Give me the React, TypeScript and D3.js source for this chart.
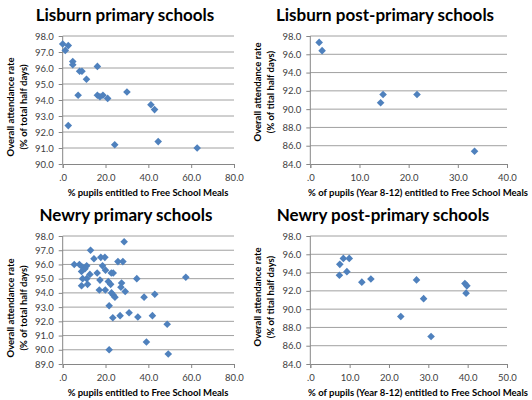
import React, { useEffect, useRef, ReactElement } from 'react'
import * as d3 from 'd3'

// Lisburn primary schools
const lisburnPrimaryFsm = [0, 2.6, 1.2, 4.7, 4.7, 7.9, 9.0, 16.2, 11.1, 7.2, 16.2, 17.4, 18.8, 21.0, 30.0, 41.2, 42.9, 2.6, 24.3, 44.6, 62.8]
const lisburnPrimaryRate = [97.5, 97.4, 97.1, 96.4, 96.2, 95.8, 95.8, 96.1, 95.3, 94.3, 94.3, 94.2, 94.3, 94.1, 94.5, 93.7, 93.4, 92.4, 91.2, 91.4, 91.0]

// Lisburn post-primary schools
const lisburnPostFsm = [1.8, 2.4, 14.3, 14.8, 21.7, 33.4]
const lisburnPostRate = [97.3, 96.4, 90.7, 91.6, 91.6, 85.4]

// Newry primary schools
const newryPrimaryFsm = [
  13.0, 28.7, 5.4, 7.8, 9.3, 11.2, 14.6, 17.8, 19.7, 25.8, 28.1,
  8.8, 10.4, 18.6, 20.0, 16.1, 22.7, 23.6, 12.7, 9.3, 11.2, 17.4,
  21.3, 22.4, 27.5, 34.6, 57.5, 8.8, 11.6, 17.1, 19.9, 27.2, 29.2,
  22.8, 23.6, 24.4, 38.0, 43.0, 21.7, 23.4, 26.8, 31.0, 35.1, 41.9,
  48.8, 39.1, 21.7, 49.3
]
const newryPrimaryRate = [
  97.0, 97.6, 96.0, 96.0, 95.8, 95.9, 96.4, 96.5, 96.5, 96.2, 96.2,
  95.5, 95.7, 95.9, 95.6, 95.4, 95.4, 95.4, 95.3, 95.0, 95.0, 94.9,
  94.8, 94.6, 94.7, 95.0, 95.1, 94.5, 94.6, 94.2, 94.2, 94.4, 94.1,
  94.0, 93.85, 93.7, 93.7, 93.9, 93.1, 92.25, 92.4, 92.6, 92.3, 92.4,
  91.8, 90.55, 90.0, 89.7
]

// Newry post-primary schools
const newryPostFsm = [7.5, 8.4, 9.9, 7.4, 9.3, 13.1, 15.4, 23.0, 27.0, 28.8, 30.7, 39.3, 39.8, 39.6]
const newryPostRate = [94.9, 95.55, 95.55, 93.7, 94.1, 92.95, 93.3, 89.2, 93.2, 91.15, 87.0, 92.8, 92.55, 91.75]

const primaryXTicks = [0, 20, 40, 60, 80]
const lisburnPostXTicks = [0, 10, 20, 30, 40]
const newryPostXTicks = [0, 10, 20, 30, 40, 50]
const lisburnPrimaryYTicks = [90, 91, 92, 93, 94, 95, 96, 97, 98]
const newryPrimaryYTicks = [89, 90, 91, 92, 93, 94, 95, 96, 97, 98]
const postYTicks = [84, 86, 88, 90, 92, 94, 96, 98]

const FONT = 'Lato, "Open Sans", sans-serif'
const MARKER = '#4F81BD'

interface IPanelProps {
  title: string
  titleX: number
  xs: number[]
  ys: number[]
  xTicks: number[]
  yTicks: number[]
  xLabel: string
  xLabelX: number
  yLabel2: string
  left: number
  right: number
  top: number
  bottom: number
  yTitleY: number
}

const fmt = (d: number) => (d === 0 ? '.0' : d.toFixed(1))

const Panel = (p: IPanelProps): ReactElement => {
  const ref = useRef<SVGGElement>(null)

  useEffect(() => {
    const g = d3.select(ref.current)
    g.selectAll('*').remove()

    const x = d3.scaleLinear()
      .domain([p.xTicks[0], p.xTicks[p.xTicks.length - 1]])
      .range([p.left, p.right])
    const y = d3.scaleLinear()
      .domain([p.yTicks[0], p.yTicks[p.yTicks.length - 1]])
      .range([p.bottom, p.top])

    // gridlines
    g.append('g')
      .selectAll('line')
      .data(p.yTicks.slice(1))
      .join('line')
      .attr('x1', p.left)
      .attr('x2', p.right)
      .attr('y1', d => y(d))
      .attr('y2', d => y(d))
      .attr('stroke', '#a0a0a0')
      .attr('stroke-width', 1)

    const yAxis = g.append('g')
      .attr('transform', `translate(${p.left},0)`)
      .call(d3.axisLeft(y).tickValues(p.yTicks).tickFormat(d => fmt(d as number)).tickSize(4).tickPadding(5))
    const xAxis = g.append('g')
      .attr('transform', `translate(0,${p.bottom})`)
      .call(d3.axisBottom(x).tickValues(p.xTicks).tickFormat(d => fmt(d as number)).tickSize(4).tickPadding(6))

    for (const ax of [yAxis, xAxis]) {
      ax.select('.domain').attr('stroke', '#868686')
      ax.selectAll('.tick line').attr('stroke', '#868686')
      ax.selectAll('.tick text')
        .attr('fill', '#404040')
        .style('font-family', FONT)
        .style('font-size', '9.5px')
    }
    yAxis.select('.domain').attr('d', `M0,${p.top}V${p.bottom}`)

    // diamonds
    const r = 3.8
    g.append('g')
      .selectAll('path')
      .data(p.xs.map((v, i) => [v, p.ys[i]]))
      .join('path')
      .attr('transform', d => `translate(${x(d[0])},${y(d[1])})`)
      .attr('d', `M0,${-r}L${r},0L0,${r}L${-r},0Z`)
      .attr('fill', MARKER)
  }, [p])

  return (
    <g>
      <text x={p.titleX} y={p.top - 15} textAnchor='middle' fontFamily={FONT} fontWeight='bold' fontSize={17} fill='#000'>
        {p.title}
      </text>
      <g ref={ref} />
      <text x={p.xLabelX} y={p.bottom + 32} textAnchor='middle' fontFamily={FONT} fontWeight='bold' fontSize={9.5} fill='#000'>
        {p.xLabel}
      </text>
      <text transform={`translate(${p.left - 49},${p.yTitleY}) rotate(-90)`} textAnchor='middle' fontFamily={FONT} fontWeight='bold' fontSize={9.5} fill='#000'>
        Overall attendance rate
      </text>
      <text transform={`translate(${p.left - 36},${p.yTitleY}) rotate(-90)`} textAnchor='middle' fontFamily={FONT} fontWeight='bold' fontSize={9.5} fill='#000'>
        {p.yLabel2}
      </text>
    </g>
  )
}

const App = (): ReactElement => {
  return (
    <svg width={532} height={400} style={{ position: 'absolute', left: 0, top: 0, background: '#fff' }}>
      <rect width={532} height={400} fill='#fff' />
      <Panel
        title='Lisburn primary schools' titleX={125}
        xs={lisburnPrimaryFsm} ys={lisburnPrimaryRate}
        xTicks={primaryXTicks} yTicks={lisburnPrimaryYTicks}
        xLabel='% pupils entitled to Free School Meals' xLabelX={148} yLabel2='(% of total half days)'
        left={62.7} right={234} top={36} bottom={164} yTitleY={107}
      />
      <Panel
        title='Lisburn post-primary schools' titleX={385}
        xs={lisburnPostFsm} ys={lisburnPostRate}
        xTicks={lisburnPostXTicks} yTicks={postYTicks}
        xLabel='% of pupils (Year 8-12) entitled to Free School Meals' xLabelX={418} yLabel2='(% of tital half days)'
        left={310.3} right={507} top={36} bottom={164} yTitleY={92}
      />
      <Panel
        title='Newry primary schools' titleX={126}
        xs={newryPrimaryFsm} ys={newryPrimaryRate}
        xTicks={primaryXTicks} yTicks={newryPrimaryYTicks}
        xLabel='% pupils entitled to Free School Meals' xLabelX={148} yLabel2='(% of total half days)'
        left={62.7} right={234} top={236} bottom={364} yTitleY={308}
      />
      <Panel
        title='Newry post-primary schools' titleX={383}
        xs={newryPostFsm} ys={newryPostRate}
        xTicks={newryPostXTicks} yTicks={postYTicks}
        xLabel='% of pupils (Year 8-12) entitled to Free School Meals' xLabelX={418} yLabel2='(% of tital half days)'
        left={310.3} right={507} top={236} bottom={364} yTitleY={297}
      />
    </svg>
  )
}

export default App
